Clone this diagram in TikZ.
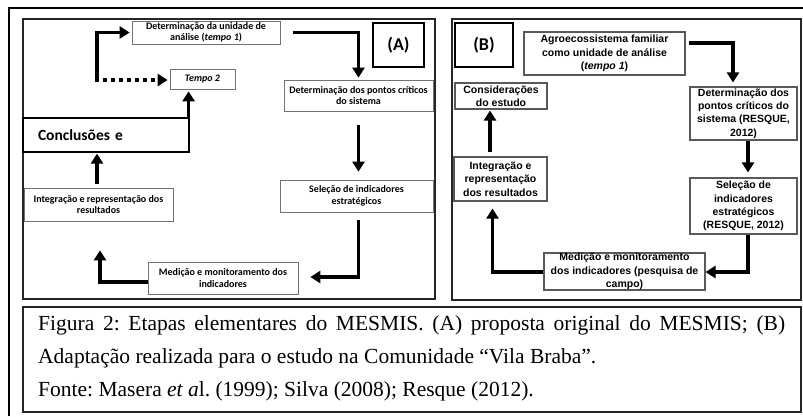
\documentclass[tikz,border=0pt]{standalone}
\usepackage{fontspec}
\usetikzlibrary{arrows.meta, calc}
\newfontfamily\calibrifont{Carlito}
\newfontfamily\arialfont{Liberation Sans}
\newfontfamily\timesfont{Liberation Serif}
\frenchspacing

\begin{document}
\begin{tikzpicture}[x=1pt, y=-1pt,
    boxA/.style={draw=black!55, line width=0.7pt, fill=white, align=center, inner sep=0pt,
        font=\calibrifont\bfseries\fontsize{10}{11.5}\selectfont},
    boxB/.style={draw=black!65, line width=1.1pt, fill=white, align=center, inner sep=0pt,
        font=\arialfont\bfseries\fontsize{10.5}{13.3}\selectfont},
    tagbox/.style={draw=black, line width=1.6pt, inner sep=0pt,
        font=\calibrifont\bfseries\fontsize{18}{20}\selectfont},
    flow/.style={line width=3.5pt, -{Triangle[width=12pt,length=10pt]}},
    panel/.style={draw=black!85, line width=1.2pt},
    capline/.style={anchor=base west, inner sep=0pt, font=\timesfont\fontsize{21.5}{33}\selectfont},
  ]
    \useasboundingbox (0,0) rectangle (803,416);

    % Outer frame and the two panels
    \draw[line width=2pt] (9,416) -- (9,8) -- (803,8);
    \draw[panel] (23,19) rectangle (435,299);
    \draw[panel] (452,19) rectangle (801,300);

    % Panel (A): original proposal
    \node[tagbox, minimum width=51pt, minimum height=44pt] (tagA) at (398.5,45) {(A)};
    \node[boxA, minimum width=148pt, minimum height=23pt] (unidA) at (206,32.5)
        {Determinação da unidade de\\análise (\textit{tempo 1})};
    \node[boxA, minimum width=65pt, minimum height=20pt] (tempo2) at (202.5,79) {\textit{Tempo 2}};
    \node[boxA, minimum width=149pt, minimum height=31pt] (pontosA) at (358.5,95.5)
        {Determinação dos pontos críticos\\do sistema};
    \node[draw=black, line width=1.2pt, fill=white, inner xsep=15pt, inner ysep=0pt,
        text width=136pt, minimum height=34pt, align=left,
        font=\calibrifont\bfseries\fontsize{15.5}{17}\selectfont] (conclA) at (106,135) {Conclusões e};
    \node[boxA, minimum width=153pt, minimum height=32pt] (selecA) at (356.5,196)
        {Seleção de indicadores\\estratégicos};
    \node[boxA, minimum width=149pt, minimum height=33pt] (integA) at (98.5,204.5)
        {Integração e representação dos\\resultados};
    \node[boxA, minimum width=150pt, minimum height=32pt] (medA) at (223,278)
        {Medição e monitoramento dos\\indicadores};

    % Arrows of panel (A)
    \draw[flow] ([xshift=13pt]unidA.east) -| ([yshift=2pt]pontosA.north);
    \draw[flow] ($(pontosA.south)+(0,14)$) -- ($(pontosA.south |- selecA.north)+(0,-8)$);
    \draw[flow] ($(pontosA.south |- selecA.south)+(0,8)$) |- ($(medA.east)+(12,-1)$);
    \draw[flow] ($(medA.west)+(0,4)$) -| ($(integA.south)+(1.5,29)$);
    \draw[flow] ($(integA.north)+(-1.5,-4)$) -- ($(integA.north |- conclA.south)+(-1.5,1)$);
    \draw[flow] ($(conclA.north east)+(-1,0)$) -- ($(conclA.north east |- tempo2.south)+(-1,2)$);
    \coordinate (turnA) at (97,80);
    \draw[flow] ($(turnA)+(0,1.75)$) |- ([xshift=-2pt]unidA.west);
    \draw[flow, dash pattern=on 4pt off 4pt] ($(turnA)+(-1.75,0)$) -- ($(tempo2.west |- turnA)+(-2,0)$);

    % Panel (B): adaptation for the study
    \node[tagbox, minimum width=58pt, minimum height=44pt] (tagB) at (484,45) {(B)};
    \node[boxB, minimum width=161pt, minimum height=43pt] (agroB) at (604.5,53.5)
        {Agroecossistema familiar\\como unidade de análise\\(\textit{tempo 1})};
    \node[boxB, minimum width=92pt, minimum height=26pt] (consB) at (501,96)
        {Considerações\\do estudo};
    \node[boxB, minimum width=107pt, minimum height=53pt] (pontosB) at (743.5,113.5)
        {Determinação dos\\pontos críticos do\\sistema (RESQUE,\\2012)};
    \node[boxB, minimum width=107pt, minimum height=56pt] (selecB) at (743.5,206)
        {Seleção de\\indicadores\\estratégicos\\(RESQUE, 2012)};
    \node[boxB, minimum width=93pt, minimum height=44pt] (integB) at (500.5,179)
        {Integração e\\representação\\dos resultados};
    \node[boxB, minimum width=161pt, minimum height=37pt] (medB) at (624.5,271.5)
        {Medição e monitoramento\\dos indicadores (pesquisa de\\campo)};

    % Arrows of panel (B)
    \draw[flow] ($(agroB.east)+(3,-10.5)$) -| ($(pontosB.north)+(-10.5,-4)$);
    \draw[flow] ($(pontosB.south)+(4.5,0)$) -- ($(pontosB.south |- selecB.north)+(4.5,-5)$);
    \draw[flow] ($(selecB.south)+(4.5,0)$) |- ($(medB.east)+(0,0.5)$);
    \draw[flow] ($(medB.west)+(0,0.5)$) -| ($(integB.south)+(-8,7)$);
    \draw[flow] ($(integB.north)+(-10.5,-4)$) -- ($(integB.north |- consB.south)+(-10.5,1)$);

    % Caption
    \draw[panel] (23,307) rectangle (801,412);
    \node[capline] (capA) at (38,330)
        {\makebox[747pt][s]{Figura 2: Etapas elementares do MESMIS. (A) proposta original do MESMIS; (B)}};
    \node[capline] (capB) at (38,363)
        {Adaptação realizada para o estudo na Comunidade “Vila Braba”.};
    \node[capline] (capC) at (38,396)
        {Fonte: Masera \textit{et a}l. (1999); Silva (2008); Resque (2012).};
\end{tikzpicture}
\end{document}
